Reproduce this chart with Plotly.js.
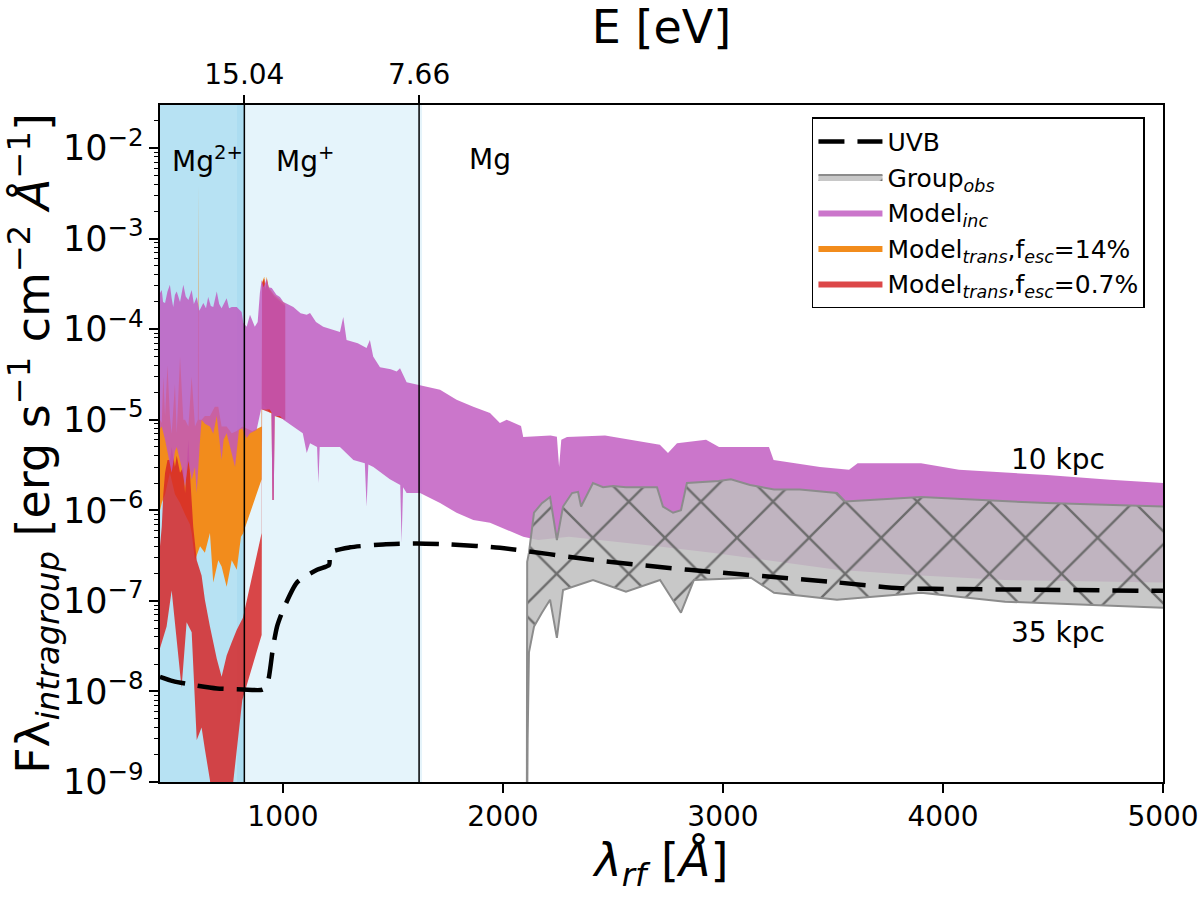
<!DOCTYPE html>
<html>
<head>
<meta charset="utf-8">
<script src="https://cdn.plot.ly/plotly-3.0.1.min.js"></script>
<style>
  html, body { margin: 0; padding: 0; background: #fff; }
  #plot { width: 1200px; height: 897px; }
</style>
</head>
<body>
<div id="plot"></div>
<script>
// ionisation edges (Angstrom) and their energies for the top axis
const edgeWave = [824.4, 1618.6];
const edgeLabels = ['15.04', '7.66'];
const bottomTicks = [1000, 2000, 3000, 4000, 5000];

// UVB
const uvbWave = [441, 500, 600, 700, 818, 909, 932, 955, 973, 1000, 1064, 1155, 1210, 1214, 1305, 1455, 1609, 1759, 1986, 2427, 2845, 3518, 3805, 4091, 5000];
const uvbFlux = [1.45e-8, 1.3e-8, 1.17e-8, 1.08e-8, 1.05e-8, 1.05e-8, 1.3e-8, 3.1e-8, 5.2e-8, 7.9e-8, 1.6e-7, 2.2e-7, 2.5e-7, 3.4e-7, 3.9e-7, 4.2e-7, 4.3e-7, 4.2e-7, 3.85e-7, 2.8e-7, 2.2e-7, 1.6e-7, 1.38e-7, 1.35e-7, 1.29e-7];

// Model_inc, 10 kpc (upper) and 35 kpc (lower)
const incHiWave = [441, 449, 455, 464, 475, 486, 494, 501, 509, 517, 532, 547, 558, 570, 585, 595, 608, 620, 638, 650, 660, 672, 683, 699, 710, 721, 744, 755, 767, 790, 812, 820, 835, 850, 872, 885, 895, 903, 912, 926, 935, 949, 970, 986, 1002, 1047, 1080, 1108, 1123, 1150, 1183, 1220, 1259, 1274, 1289, 1340, 1380, 1395, 1410, 1441, 1490, 1517, 1532, 1562, 1623, 1714, 1789, 1865, 1941, 1986, 2017, 2082, 2092, 2216, 2245, 2255, 2265, 2291, 2464, 2713, 2750, 2791, 2923, 2982, 3209, 3230, 3441, 3573, 3612, 3900, 4073, 4473, 4759, 5000];
const incHiFlux = [2.5e-4, 2.7e-4, 2.0e-4, 1.95e-4, 2.6e-4, 3.1e-4, 2.2e-4, 1.76e-4, 2.4e-4, 2.6e-4, 2.0e-4, 3.1e-4, 2.3e-4, 2.1e-4, 2.7e-4, 1.9e-4, 2.27e-4, 1.6e-4, 1.95e-4, 1.7e-4, 2.27e-4, 1.8e-4, 1.76e-4, 2.6e-4, 1.9e-4, 1.7e-4, 2.2e-4, 1.7e-4, 1.76e-4, 1.76e-4, 1.55e-4, 1.17e-4, 1.06e-4, 1.44e-4, 1.06e-4, 1.2e-4, 2.5e-4, 3.5e-4, 2.9e-4, 3.6e-4, 2.9e-4, 2.85e-4, 2.4e-4, 2.27e-4, 2.0e-4, 1.76e-4, 1.5e-4, 1.44e-4, 1.51e-4, 1.2e-4, 1.06e-4, 1.0e-4, 9.3e-5, 1.36e-4, 7.6e-5, 7.0e-5, 6.2e-5, 7.6e-5, 5.0e-5, 3.8e-5, 3.6e-5, 3.4e-5, 3.7e-5, 2.6e-5, 2.4e-5, 2.14e-5, 1.66e-5, 1.39e-5, 1.19e-5, 9.2e-6, 1.0e-5, 8.5e-6, 6.45e-6, 6.7e-6, 6.5e-6, 3.0e-6, 6.0e-6, 6.45e-6, 6.7e-6, 5.3e-6, 4.3e-6, 5.5e-6, 6.0e-6, 5.0e-6, 5.0e-6, 3.6e-6, 3.0e-6, 2.8e-6, 3.3e-6, 3.3e-6, 2.8e-6, 2.45e-6, 2.18e-6, 2.0e-6];
const incLoWave = [441, 449, 464, 471, 494, 509, 517, 539, 555, 570, 585, 600, 608, 623, 630, 645, 668, 683, 699, 721, 730, 744, 767, 782, 800, 815, 835, 850, 880, 900, 940, 948, 952, 958, 962, 986, 1002, 1047, 1090, 1108, 1123, 1155, 1161, 1167, 1183, 1259, 1320, 1372, 1380, 1388, 1411, 1486, 1533, 1539, 1546, 1562, 1623, 1714, 1789, 1865, 1941, 2017, 2092, 2160, 2300, 2700, 2950, 3518, 3900, 4282, 5000];
const incLoFlux = [8.0e-6, 8.4e-6, 6.0e-6, 5.0e-6, 2.6e-6, 4.5e-6, 5.0e-6, 3.0e-6, 1.8e-6, 3.5e-6, 2.18e-6, 3.0e-6, 1.55e-6, 6.0e-6, 1.0e-5, 9.0e-6, 8.4e-6, 7.0e-6, 1.1e-5, 3.6e-6, 6.0e-6, 7.1e-6, 4.0e-6, 3.0e-6, 7.7e-6, 8.0e-6, 6.3e-6, 7.1e-6, 7.7e-6, 1.3e-5, 1.3e-5, 1.2e-5, 1.3e-6, 1.3e-6, 1.1e-5, 1.1e-5, 1.0e-5, 8.4e-6, 7.1e-6, 4.3e-6, 5.5e-6, 5.0e-6, 2.0e-6, 5.0e-6, 5.0e-6, 5.0e-6, 3.6e-6, 3.3e-6, 1.1e-6, 3.2e-6, 3.0e-6, 2.2e-6, 1.9e-6, 4.4e-7, 1.8e-6, 1.55e-6, 1.55e-6, 1.2e-6, 9.4e-7, 7.8e-7, 7.3e-7, 6.1e-7, 5.1e-7, 4.7e-7, 5.1e-7, 4.0e-7, 3.4e-7, 2.2e-7, 1.9e-7, 1.7e-7, 1.6e-7];

// Model_trans, fesc = 14%
const t14HiWave = [441, 449, 456, 464, 475, 486, 494, 509, 517, 532, 547, 555, 570, 585, 600, 610, 613, 615, 617, 630, 645, 668, 690, 706, 721, 744, 767, 790, 815, 860, 903, 905, 915, 920, 926, 935, 960, 1000, 1010];
const t14HiFlux = [1.0e-5, 9.2e-6, 3.0e-5, 1.1e-5, 4.0e-5, 1.1e-5, 7.0e-6, 2.5e-5, 7.1e-6, 5.0e-5, 1.0e-5, 1.0e-5, 8.4e-6, 3.0e-5, 8.4e-6, 1.0e-5, 1.0e-5, 3.9e-3, 1.0e-5, 1.0e-5, 1.1e-5, 1.1e-5, 1.39e-5, 1.39e-5, 8.4e-6, 8.4e-6, 7.1e-6, 7.5e-6, 8.4e-6, 7.5e-6, 8.4e-6, 3.3e-4, 3.8e-4, 2.8e-4, 3.8e-4, 2.9e-4, 2.4e-4, 2.0e-4, 1.9e-4];
const t14LoWave = [441, 449, 464, 486, 509, 532, 555, 577, 585, 600, 623, 645, 668, 683, 706, 721, 744, 767, 790, 809, 818, 903, 905, 940, 1010];
const t14LoFlux = [1.0e-6, 1.2e-6, 1.5e-6, 2.6e-6, 1.5e-6, 1.2e-6, 9.0e-7, 7.0e-7, 5.6e-7, 2.8e-7, 4.0e-7, 3.4e-7, 5.6e-7, 1.6e-7, 2.8e-7, 2.4e-7, 1.43e-7, 2.8e-7, 2.2e-7, 5.1e-7, 5.5e-7, 2.2e-6, 1.5e-5, 1.2e-5, 1.0e-5];

// Model_trans, fesc = 0.7%
const t07HiWave = [441, 449, 456, 464, 475, 486, 494, 509, 517, 532, 547, 555, 570, 577, 592, 600, 608, 630, 645, 668, 683, 699, 721, 744, 767, 790, 818, 903, 905, 915, 920, 926, 935, 960, 1000, 1010];
const t07HiFlux = [4.0e-7, 6.6e-7, 1.5e-6, 2.6e-6, 3.6e-6, 3.6e-6, 5.0e-6, 3.0e-6, 4.0e-6, 2.6e-6, 3.0e-6, 1.55e-6, 6.0e-6, 2.6e-6, 6.6e-7, 4.0e-7, 2.8e-7, 1.9e-7, 1.03e-7, 5.2e-8, 3.5e-8, 2.3e-8, 1.45e-8, 2.5e-8, 3.5e-8, 4.8e-8, 6.5e-8, 5.6e-7, 3.2e-4, 3.6e-4, 2.7e-4, 3.5e-4, 2.8e-4, 2.3e-4, 1.9e-4, 1.8e-4];
const t07LoWave = [441, 449, 471, 494, 517, 539, 562, 585, 608, 630, 645, 668, 683, 721, 760, 790, 815, 903, 905, 940, 948, 952, 958, 962, 1010];
const t07LoFlux = [3.0e-8, 3.45e-8, 5.2e-8, 1.3e-7, 3.45e-8, 1.1e-8, 5.8e-8, 4.5e-8, 2.9e-9, 4.0e-9, 2.3e-9, 1.05e-9, 5.0e-10, 3.0e-10, 5.0e-10, 2.5e-9, 8.0e-9, 4.2e-8, 1.3e-5, 1.2e-5, 1.2e-5, 1.3e-6, 1.3e-6, 1.1e-5, 1.0e-5];

// Group_obs
const obsHiWave = [2108, 2110, 2118, 2141, 2177, 2214, 2245, 2273, 2314, 2341, 2355, 2409, 2455, 2500, 2559, 2655, 2700, 2727, 2773, 2809, 2836, 2980, 3036, 3123, 3232, 3350, 3518, 3555, 3900, 4473, 5000];
const obsHiFlux = [1.0e-10, 2.7e-7, 3.4e-7, 9.4e-7, 1.2e-6, 1.4e-6, 4.7e-7, 1.1e-6, 1.55e-6, 1.6e-6, 1.1e-6, 2.0e-6, 1.8e-6, 1.85e-6, 1.8e-6, 1.8e-6, 1.8e-6, 1.1e-6, 9.4e-7, 1.0e-6, 2.0e-6, 2.1e-6, 2.2e-6, 1.9e-6, 1.7e-6, 1.7e-6, 1.55e-6, 1.25e-6, 1.4e-6, 1.2e-6, 1.1e-6];
const obsLoWave = [2108, 2112, 2118, 2141, 2177, 2214, 2245, 2273, 2409, 2559, 2714, 2809, 2868, 3127, 3232, 3518, 3900, 4282, 5000];
const obsLoFlux = [1.0e-10, 3.0e-9, 2.7e-8, 5.2e-8, 7.4e-8, 1.03e-7, 3.9e-8, 1.32e-7, 1.7e-7, 1.26e-7, 1.7e-7, 7.4e-8, 1.7e-7, 1.8e-7, 1.23e-7, 1.03e-7, 1.23e-7, 9.8e-8, 8.4e-8];

function bandTraces(loWave, loFlux, hiWave, hiFlux, fill, name, rank, lineColor, pattern) {
    let lower = {
        x: loWave, y: loFlux, type: 'scatter', mode: 'lines',
        line: {color: lineColor || 'rgba(0,0,0,0)', width: lineColor ? 2 : 0},
        showlegend: false, hoverinfo: 'skip'
    };
    let upper = {
        x: hiWave, y: hiFlux, type: 'scatter', mode: 'lines', name: name,
        fill: 'tonexty', fillcolor: fill,
        line: {color: lineColor || 'rgba(0,0,0,0)', width: lineColor ? 2 : 0},
        legendrank: rank
    };
    if (pattern) {
        upper.fillpattern = pattern;
    }
    return [lower, upper];
}

let data = [];
data = data.concat(bandTraces(t14LoWave, t14LoFlux, t14HiWave, t14HiFlux, 'rgb(242,140,28)',
    'Model<sub><i>trans</i></sub>,f<sub><i>esc</i></sub>=14%', 4));
data = data.concat(bandTraces(t07LoWave, t07LoFlux, t07HiWave, t07HiFlux, 'rgba(214,39,40,0.85)',
    'Model<sub><i>trans</i></sub>,f<sub><i>esc</i></sub>=0.7%', 5));
data = data.concat(bandTraces(incLoWave, incLoFlux, incHiWave, incHiFlux, 'rgba(192,88,192,0.82)',
    'Model<sub><i>inc</i></sub>', 3));
data = data.concat(bandTraces(obsLoWave, obsLoFlux, obsHiWave, obsHiFlux, 'rgba(190,190,190,0.85)',
    'Group<sub><i>obs</i></sub>', 2, 'rgb(140,140,140)',
    {shape: 'x', bgcolor: 'rgba(190,190,190,0.85)', fgcolor: 'rgb(108,108,108)', size: 51, solidity: 0.09}));
data.push({
    x: uvbWave, y: uvbFlux, type: 'scatter', mode: 'lines', name: 'UVB',
    line: {color: 'black', width: 4.5, dash: '26px,13px', shape: 'spline', smoothing: 0.6},
    legendrank: 1
});
// carrier for the energy axis on top
data.push({
    x: [441, 5000], y: [1e-9, 1e-9], xaxis: 'x2', yaxis: 'y', type: 'scatter', mode: 'lines',
    line: {width: 0}, showlegend: false, hoverinfo: 'skip'
});

let axisStyle = {
    showgrid: false, zeroline: false, showline: true, linecolor: 'black', linewidth: 1.5,
    ticks: 'outside', ticklen: 9, tickwidth: 1.5, tickcolor: 'black',
    tickfont: {size: 28}
};

let layout = {
    width: 1200, height: 897,
    margin: {l: 160, r: 37, t: 105, b: 115},
    paper_bgcolor: 'white', plot_bgcolor: 'white',
    font: {family: 'DejaVu Sans', size: 28, color: 'black'},
    showlegend: true,
    legend: {
        x: 0.65, y: 0.982, xanchor: 'left', yanchor: 'top',
        bgcolor: 'white', bordercolor: 'black', borderwidth: 1.5,
        font: {size: 25}, traceorder: 'normal', itemwidth: 64
    },
    xaxis: Object.assign({}, axisStyle, {
        range: [441, 5000], tickvals: bottomTicks, mirror: true,
        title: {text: '<i>λ<sub>rf</sub></i> [<i>Å</i>]', font: {size: 46}, standoff: 6}
    }),
    xaxis2: Object.assign({}, axisStyle, {
        overlaying: 'x', side: 'top', range: [441, 5000], showline: false,
        tickvals: edgeWave, ticktext: edgeLabels,
        title: {text: 'E [eV]', font: {size: 46}, standoff: 4}
    }),
    yaxis: Object.assign({}, axisStyle, {
        type: 'log', range: [-9, -1.525], dtick: 1, exponentformat: 'power', mirror: true,
        minor: {ticks: 'outside', ticklen: 4, tickwidth: 1, tickcolor: 'black', dtick: 'D1', showgrid: false},
        title: {text: 'Fλ<sub><i>intragroup</i></sub> [erg s<sup>−1</sup> cm<sup>−2</sup> <i>Å</i><sup>−1</sup>]', font: {size: 46}, standoff: 8}
    }),
    shapes: [
        {type: 'rect', xref: 'x', yref: 'paper', x0: 441, x1: 824.4, y0: 0, y1: 1, layer: 'below',
            fillcolor: 'rgba(135,206,235,0.6)', line: {width: 0}},
        {type: 'rect', xref: 'x', yref: 'paper', x0: 791, x1: 1632, y0: 0, y1: 1, layer: 'below',
            fillcolor: 'rgba(135,206,235,0.22)', line: {width: 0}},
        {type: 'line', xref: 'x', yref: 'paper', x0: edgeWave[0], x1: edgeWave[0], y0: 0, y1: 1,
            line: {color: 'black', width: 1.5}},
        {type: 'line', xref: 'x', yref: 'paper', x0: edgeWave[1], x1: edgeWave[1], y0: 0, y1: 1,
            line: {color: 'black', width: 1.5}}
    ],
    annotations: [
        {x: 658, y: -2.13, xref: 'x', yref: 'y', text: 'Mg<sup>2+</sup>', showarrow: false, font: {size: 28}},
        {x: 1100, y: -2.13, xref: 'x', yref: 'y', text: 'Mg<sup>+</sup>', showarrow: false, font: {size: 28}},
        {x: 1941, y: -2.13, xref: 'x', yref: 'y', text: 'Mg', showarrow: false, font: {size: 28}},
        {x: 4523, y: -5.44, xref: 'x', yref: 'y', text: '10 kpc', showarrow: false, font: {size: 28}},
        {x: 4523, y: -7.35, xref: 'x', yref: 'y', text: '35 kpc', showarrow: false, font: {size: 28}}
    ]
};

Plotly.newPlot('plot', data, layout, {displayModeBar: false, responsive: false});
</script>
</body>
</html>
